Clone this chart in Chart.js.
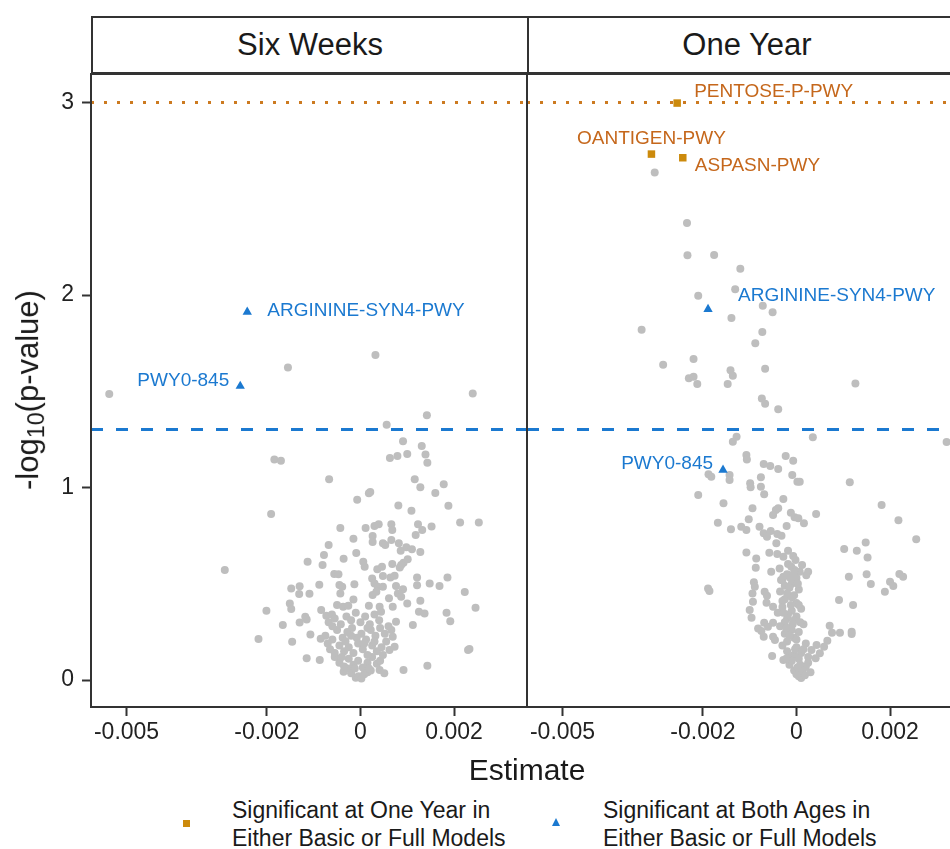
<!DOCTYPE html>
<html>
<head>
  <meta charset="utf-8" />
  <title>Volcano plot by age</title>
  <script src="https://cdn.jsdelivr.net/npm/chart.js"></script>
  <style>
    body { margin: 0; background: #fff; }
    #wrap {
      position: relative; width: 950px; height: 849px; overflow: hidden;
      font-family: "Liberation Sans", Arial, sans-serif; color: #1a1a1a;
    }
    canvas { position: absolute; }
    .strip {
      position: absolute; top: 16px; height: 58px; box-sizing: border-box;
      border: 2px solid #333; background: #fff;
      display: flex; align-items: center; justify-content: center;
      font-size: 31px;
    }
    .ytitle {
      position: absolute; left: 30px; top: 390px; white-space: nowrap;
      transform: translate(-50%, -50%) rotate(-90deg); font-size: 31px;
    }
    .ytitle sub { font-size: 0.75em; vertical-align: -0.25em; }
    .xtitle {
      position: absolute; left: 327px; width: 400px; top: 752px;
      text-align: center; font-size: 30px; line-height: 36px;
    }
    .legtext { position: absolute; top: 796px; font-size: 23px; line-height: 28px; white-space: nowrap; }
    .legsq { position: absolute; left: 183px; top: 820px; width: 7px; height: 7px; background: #CC8A0C; }
    .legtri {
      position: absolute; left: 552px; top: 818px; width: 0; height: 0;
      border-left: 4.5px solid transparent; border-right: 4.5px solid transparent;
      border-bottom: 8px solid #1B79D0;
    }
  </style>
</head>
<body>
<div id="wrap">
  <div class="strip" style="left:91px; width:438px;">Six Weeks</div>
  <div class="strip" style="left:527px; width:440px;">One Year</div>
  <canvas id="sixWeeks" width="529" height="703" style="left:0; top:64px;"></canvas>
  <canvas id="oneYear" width="448" height="703" style="left:517px; top:64px;"></canvas>
  <div class="ytitle">-log<sub>10</sub>(p-value)</div>
  <div class="xtitle">Estimate</div>
  <div class="legsq"></div>
  <div class="legtext" style="left:232px;">Significant at One Year in<br>Either Basic or Full Models</div>
  <div class="legtri"></div>
  <div class="legtext" style="left:603px;">Significant at Both Ages in<br>Either Basic or Full Models</div>
</div>

<script>
  // axis setup
  const xTicks = [-0.005, -0.002, 0, 0.002];
  const yTicks = [0, 1, 2, 3];
  const xMin = -0.00576, xMax = 0.00356;
  const yMin = -0.140, yMax = 3.148;
  const sigLine = 1.301;   // -log10(0.05)
  const strictLine = 3;

  // grey points, [estimate, -log10 p]
  const sixWeeksOther = [
    [-0.00537,1.486],[-0.00155,1.624],[0.00032,1.688],[0.00240,1.489],[0.00142,1.375],[0.00056,1.326],
    [0.00091,1.240],[0.00131,1.216],[-0.00184,1.146],[-0.00170,1.139],[-0.00067,1.043],[-0.00007,0.937],
    [-0.00191,0.862],[-0.00290,0.571],[-0.00043,0.790],[-0.00015,0.734],[-0.00068,0.701],[-0.00078,0.649],
    [-0.00113,0.615],[-0.00081,0.597],[-0.00036,0.630],[-0.00009,0.660],[-0.00056,0.551],[-0.00047,0.549],
    [-0.00148,0.476],[-0.00130,0.487],[-0.00131,0.447],[-0.00109,0.448],[-0.00088,0.495],[-0.00045,0.494],
    [-0.00039,0.485],[-0.00013,0.497],[-0.00043,0.450],[-0.00015,0.419],[-0.00151,0.398],[-0.00148,0.369],
    [-0.00201,0.360],[-0.00084,0.364],[-0.00073,0.334],[-0.00061,0.341],[-0.00050,0.390],[-0.00037,0.381],
    [-0.00026,0.386],[-0.00118,0.329],[-0.00115,0.315],[-0.00130,0.299],[-0.00166,0.286],[-0.00218,0.213],
    [-0.00146,0.199],[-0.00107,0.237],[-0.00085,0.215],[-0.00115,0.113],[-0.00087,0.104],[-0.00036,0.043],
    [0.00063,1.153],[0.00079,1.164],[0.00100,1.174],[0.00139,1.172],[0.00143,1.129],[0.00116,1.043],
    [0.00128,1.001],[0.00160,0.971],[0.00178,1.017],[0.00021,0.977],[0.00018,0.970],[0.00081,0.907],
    [0.00109,0.879],[0.00188,0.906],[0.00213,0.819],[0.00253,0.819],[0.00011,0.790],[0.00030,0.800],
    [0.00039,0.809],[0.00066,0.809],[0.00068,0.779],[0.00123,0.809],[0.00132,0.779],[0.00152,0.798],
    [0.00118,0.753],[0.00026,0.748],[0.00026,0.717],[0.00048,0.710],[0.00053,0.701],[0.00066,0.727],
    [0.00082,0.710],[0.00098,0.690],[0.00110,0.679],[0.00128,0.665],[0.00086,0.672],[0.00006,0.615],
    [0.00009,0.589],[0.00036,0.575],[0.00046,0.589],[0.00068,0.603],[0.00084,0.585],[0.00092,0.609],
    [0.00101,0.627],[0.00087,0.597],[0.00025,0.528],[0.00048,0.540],[0.00064,0.533],[0.00073,0.542],
    [0.00121,0.533],[0.00121,0.492],[0.00148,0.502],[0.00169,0.488],[0.00186,0.533],[0.00030,0.502],
    [0.00037,0.485],[0.00048,0.485],[0.00034,0.459],[0.00026,0.442],[0.00076,0.488],[0.00091,0.471],
    [0.00080,0.450],[0.00087,0.433],[0.00223,0.457],[0.00061,0.425],[0.00069,0.381],[0.00100,0.398],
    [0.00128,0.412],[0.00246,0.376],[0.00018,0.386],[0.00041,0.381],[0.00044,0.355],[0.00125,0.355],
    [0.00137,0.346],[0.00184,0.350],[0.00192,0.306],[0.00112,0.286],[0.00076,0.303],[0.00066,0.260],
    [0.00069,0.225],[0.00062,0.156],[0.00073,0.173],[0.00233,0.161],[0.00230,0.156],[0.00143,0.074],
    [0.00092,0.052],[0.00041,0.052],[0.00051,0.035],
    [-0.00010,0.012],[-0.00004,0.020],[0.00002,0.008],[0.00008,0.030],[0.00015,0.040],[-0.00020,0.035],
    [0.00022,0.050],[-0.00028,0.060],[-0.00045,0.090],[-0.00035,0.070],[-0.00025,0.110],[-0.00015,0.080],
    [-0.00005,0.100],[0.00005,0.065],[0.00015,0.090],[0.00025,0.120],[0.00035,0.085],[-0.00055,0.120],
    [0.00042,0.100],[-0.00065,0.160],[-0.00055,0.140],[-0.00045,0.180],[-0.00035,0.150],[-0.00025,0.170],
    [-0.00015,0.140],[-0.00005,0.190],[0.00005,0.160],[0.00015,0.130],[0.00025,0.180],[0.00035,0.150],
    [0.00045,0.170],[0.00055,0.200],[-0.00075,0.230],[-0.00060,0.210],[-0.00050,0.260],[-0.00038,0.220],
    [-0.00028,0.250],[-0.00018,0.270],[-0.00008,0.220],[0.00002,0.240],[0.00012,0.210],[0.00022,0.260],
    [0.00032,0.230],[0.00042,0.270],[0.00052,0.240],[-0.00068,0.300],[-0.00055,0.320],[-0.00042,0.290],
    [-0.00030,0.330],[-0.00020,0.310],[-0.00010,0.350],[0.00000,0.300],[0.00010,0.330],[0.00020,0.290],
    [0.00030,0.340],[0.00040,0.310],
    [-0.00060,0.280],[-0.00032,0.200],[-0.00012,0.060],[0.00018,0.060],[0.00030,0.200],[0.00048,0.130],
    [-0.00040,0.120],[-0.00070,0.190],[0.00060,0.280],[-0.00020,0.230],[0.00008,0.190],[0.00015,0.270]
  ];

  const oneYearOther = [
    [-0.00303,2.637],[-0.00234,2.374],[-0.00233,2.206],[-0.00176,2.208],[-0.00120,2.137],[-0.00210,1.996],
    [-0.00131,2.030],[-0.00072,1.944],[-0.00051,1.910],[-0.00139,1.881],[-0.00331,1.820],[-0.00073,1.808],
    [-0.00088,1.749],[-0.00285,1.638],[-0.00220,1.668],[-0.00230,1.567],[-0.00220,1.576],[-0.00212,1.538],
    [-0.00141,1.609],[-0.00136,1.581],[-0.00147,1.538],[-0.00067,1.617],[0.00126,1.541],[-0.00074,1.463],
    [-0.00067,1.435],[-0.00039,1.406],[-0.00128,1.264],[-0.00136,1.238],[0.00035,1.261],[0.00321,1.236],
    [-0.00107,1.169],[-0.00106,1.146],[-0.00070,1.122],[-0.00056,1.112],[-0.00039,1.096],[-0.00023,1.164],
    [-0.00007,1.139],[-0.00188,1.069],[-0.00182,1.056],[-0.00143,1.065],[-0.00143,1.039],[-0.00099,1.022],
    [-0.00098,1.001],[-0.00076,1.053],[-0.00076,1.004],[-0.00069,0.965],[-0.00009,1.065],[0.00002,1.030],
    [0.00007,1.030],[-0.00210,0.961],[-0.00028,0.940],[-0.00156,0.918],[-0.00094,0.892],[-0.00044,0.883],
    [-0.00039,0.892],[-0.00050,0.857],[-0.00012,0.869],[-0.00004,0.845],[0.00004,0.840],[-0.00168,0.817],
    [-0.00140,0.783],[-0.00118,0.796],[-0.00107,0.779],[-0.00102,0.835],[-0.00079,0.796],[-0.00070,0.762],
    [-0.00063,0.744],[-0.00055,0.774],[-0.00041,0.758],[-0.00032,0.750],[-0.00043,0.710],[-0.00021,0.800],
    [-0.00107,0.663],[-0.00086,0.632],[-0.00087,0.583],[-0.00058,0.661],[-0.00041,0.655],[-0.00028,0.641],
    [-0.00018,0.672],[-0.00007,0.644],[-0.00002,0.623],[-0.00054,0.563],[-0.00036,0.580],[-0.00028,0.537],
    [-0.00014,0.537],[-0.00004,0.571],[-0.00091,0.508],[-0.00089,0.485],[-0.00094,0.450],[-0.00093,0.407],
    [-0.00068,0.459],[-0.00063,0.438],[-0.00064,0.402],[-0.00189,0.476],[-0.00186,0.462],[-0.00050,0.381],
    [-0.00100,0.364],[-0.00096,0.324],[-0.00069,0.298],[-0.00050,0.298],[-0.00061,0.277],[-0.00082,0.268],
    [-0.00075,0.255],[-0.00070,0.225],[-0.00050,0.225],[-0.00046,0.208],[-0.00052,0.125],[-0.00028,0.104],
    [0.00114,1.027],[0.00182,0.909],[0.00218,0.830],[0.00256,0.731],[0.00042,0.862],[0.00016,0.814],
    [0.00102,0.681],[0.00129,0.672],[0.00148,0.715],[0.00152,0.637],[-0.00018,0.603],[-0.00011,0.589],
    [0.00012,0.597],[0.00025,0.563],[0.00021,0.545],[0.00007,0.563],[0.00112,0.537],[0.00150,0.549],
    [0.00159,0.499],[0.00189,0.459],[0.00200,0.511],[0.00207,0.488],[0.00220,0.551],[0.00228,0.537],
    [0.00091,0.416],[0.00121,0.390],[0.00071,0.282],[0.00076,0.246],[0.00093,0.246],[0.00118,0.251],
    [0.00118,0.239],[0.00066,0.204],[0.00059,0.173],[0.00050,0.139],[0.00043,0.182],[0.00032,0.156],
    [0.00041,0.113],
    [-0.00030,0.520],[-0.00020,0.550],[-0.00010,0.500],[0.00000,0.530],[-0.00025,0.490],[-0.00005,0.560],
    [-0.00035,0.460],[-0.00025,0.420],[-0.00015,0.480],[-0.00005,0.440],[0.00005,0.470],[-0.00030,0.410],
    [-0.00010,0.430],[0.00000,0.400],[-0.00040,0.350],[-0.00030,0.380],[-0.00020,0.320],[-0.00010,0.360],
    [0.00000,0.330],[0.00010,0.370],[-0.00025,0.300],[-0.00005,0.310],[0.00005,0.390],[-0.00035,0.280],
    [-0.00025,0.240],[-0.00015,0.270],[-0.00005,0.220],[0.00005,0.250],[0.00015,0.290],[-0.00020,0.200],
    [-0.00010,0.260],[0.00000,0.210],[-0.00030,0.180],[-0.00020,0.150],[-0.00010,0.120],[0.00000,0.170],
    [0.00010,0.140],[0.00020,0.190],[-0.00015,0.100],[-0.00005,0.130],[0.00005,0.110],[0.00015,0.160],
    [-0.00015,0.080],[-0.00005,0.050],[0.00005,0.020],[0.00015,0.060],[0.00025,0.090],[0.00010,0.010],
    [0.00000,0.030],[0.00030,0.040],[0.00020,0.070],[-0.00010,0.100],
    [-0.00020,0.450],[-0.00012,0.390],[-0.00018,0.340],[-0.00008,0.290],[-0.00028,0.350],[-0.00015,0.230],
    [-0.00003,0.160],[0.00008,0.080],[-0.00022,0.110],[0.00012,0.045],[0.00003,0.500],[-0.00013,0.530],
    [-0.00033,0.520],[-0.00022,0.270],[0.00008,0.300],[0.00002,0.065],[0.00018,0.025],[0.00025,0.120]
  ];

  // highlighted pathways
  const sixWeeksBothNames = ['ARGININE-SYN4-PWY', 'PWY0-845'];
  const sixWeeksBoth = [[-0.00242, 1.912], [-0.00257, 1.527]];
  const oneYearSigNames = ['PENTOSE-P-PWY', 'OANTIGEN-PWY', 'ASPASN-PWY'];
  const oneYearSig = [[-0.00255, 2.997], [-0.00310, 2.732], [-0.00243, 2.713]];
  const oneYearBothNames = ['ARGININE-SYN4-PWY', 'PWY0-845'];
  const oneYearBoth = [[-0.00189, 1.926], [-0.00157, 1.091]];

  const FONT = '"Liberation Sans", Arial, sans-serif';
  const GREY = '#BEBEBE';
  const ORANGE = '#CC8A0C', ORANGE_TXT = '#C5671B', ORANGE_LINE = '#CC7A20';
  const BLUE = '#1B79D0';

  // label placement (pixel offset from the marker)
  const labelPos = {
    'sixWeeks|ARGININE-SYN4-PWY': { dx: 20, dy: -1, align: 'left' },
    'sixWeeks|PWY0-845': { dx: -11, dy: -5, align: 'right' },
    'oneYear|PENTOSE-P-PWY': { dx: 17, dy: -11, align: 'left' },
    'oneYear|OANTIGEN-PWY': { dx: 0, dy: -15, align: 'center' },
    'oneYear|ASPASN-PWY': { dx: 12, dy: 8, align: 'left' },
    'oneYear|ARGININE-SYN4-PWY': { dx: 30, dy: -13, align: 'left' },
    'oneYear|PWY0-845': { dx: -10, dy: -6, align: 'right' }
  };

  const toPts = arr => arr.map(p => ({ x: p[0], y: p[1] }));

  const panelPlugin = {
    id: 'panelPlugin',
    afterDatasetsDraw(chart) {
      const ctx = chart.ctx;
      ctx.save();
      ctx.font = '19px ' + FONT;
      ctx.textBaseline = 'middle';
      chart.data.datasets.forEach((ds, i) => {
        if (!ds.names) return;
        chart.getDatasetMeta(i).data.forEach((el, j) => {
          const pos = labelPos[chart.canvas.id + '|' + ds.names[j]];
          ctx.fillStyle = ds.labelColor;
          ctx.textAlign = pos.align;
          ctx.fillText(ds.names[j], el.x + pos.dx, el.y + pos.dy);
        });
      });
      ctx.restore();
    },
    afterDraw(chart) {
      const a = chart.chartArea, ctx = chart.ctx;
      ctx.save();
      ctx.strokeStyle = '#333';
      ctx.lineWidth = 2;
      ctx.strokeRect(a.left, a.top, a.right - a.left, a.bottom - a.top);
      ctx.restore();
    }
  };

  function refLines() {
    return [
      { data: [{ x: xMin, y: strictLine }, { x: xMax, y: strictLine }], showLine: true, pointRadius: 0,
        borderColor: ORANGE_LINE, borderWidth: 3, borderDash: [3, 10], order: 5 },
      { data: [{ x: xMin, y: sigLine }, { x: xMax, y: sigLine }], showLine: true, pointRadius: 0,
        borderColor: BLUE, borderWidth: 3, borderDash: [12, 13], order: 5 }
    ];
  }

  function greySet(arr) {
    return { data: toPts(arr), backgroundColor: GREY, borderWidth: 0, pointRadius: 4, order: 4 };
  }

  function makeOptions(showY) {
    return {
      responsive: false,
      animation: false,
      layout: { padding: { top: 10, left: 0, right: 2, bottom: 0 }, autoPadding: false },
      plugins: { legend: { display: false }, tooltip: { enabled: false } },
      scales: {
        x: {
          type: 'linear', min: xMin, max: xMax,
          afterBuildTicks: s => { s.ticks = xTicks.map(v => ({ value: v })); },
          afterFit: s => { s.height = 60; s.paddingLeft = 0; s.paddingRight = 0; },
          ticks: { color: '#222', font: { size: 23, family: FONT }, padding: 3, maxRotation: 0,
                   callback: v => String(v) },
          grid: { display: true, drawOnChartArea: false, drawTicks: true, tickLength: 9,
                  tickWidth: 2, tickColor: '#333' },
          border: { display: false }
        },
        y: {
          type: 'linear', min: yMin, max: yMax,
          afterBuildTicks: s => { s.ticks = yTicks.map(v => ({ value: v })); },
          afterFit: s => { s.width = showY ? 91 : 10; s.paddingTop = 0; s.paddingBottom = 0; },
          ticks: { display: showY, color: '#222', font: { size: 23, family: FONT }, padding: 8,
                   callback: v => String(v) },
          grid: { display: showY, drawOnChartArea: false, drawTicks: true, tickLength: 9,
                  tickWidth: 2, tickColor: '#333' },
          border: { display: false }
        }
      }
    };
  }

  new Chart(document.getElementById('sixWeeks'), {
    type: 'scatter',
    data: {
      datasets: [
        ...refLines(),
        greySet(sixWeeksOther),
        { data: toPts(sixWeeksBoth), names: sixWeeksBothNames, labelColor: BLUE,
          pointStyle: 'triangle', pointRadius: 5.4, backgroundColor: BLUE, borderWidth: 0, order: 1 }
      ]
    },
    options: makeOptions(true),
    plugins: [panelPlugin]
  });

  new Chart(document.getElementById('oneYear'), {
    type: 'scatter',
    data: {
      datasets: [
        ...refLines(),
        greySet(oneYearOther),
        { data: toPts(oneYearSig), names: oneYearSigNames, labelColor: ORANGE_TXT,
          pointStyle: 'rect', pointRadius: 5.3, backgroundColor: ORANGE, borderWidth: 0, order: 2 },
        { data: toPts(oneYearBoth), names: oneYearBothNames, labelColor: BLUE,
          pointStyle: 'triangle', pointRadius: 5.4, backgroundColor: BLUE, borderWidth: 0, order: 1 }
      ]
    },
    options: makeOptions(false),
    plugins: [panelPlugin]
  });
</script>
</body>
</html>
